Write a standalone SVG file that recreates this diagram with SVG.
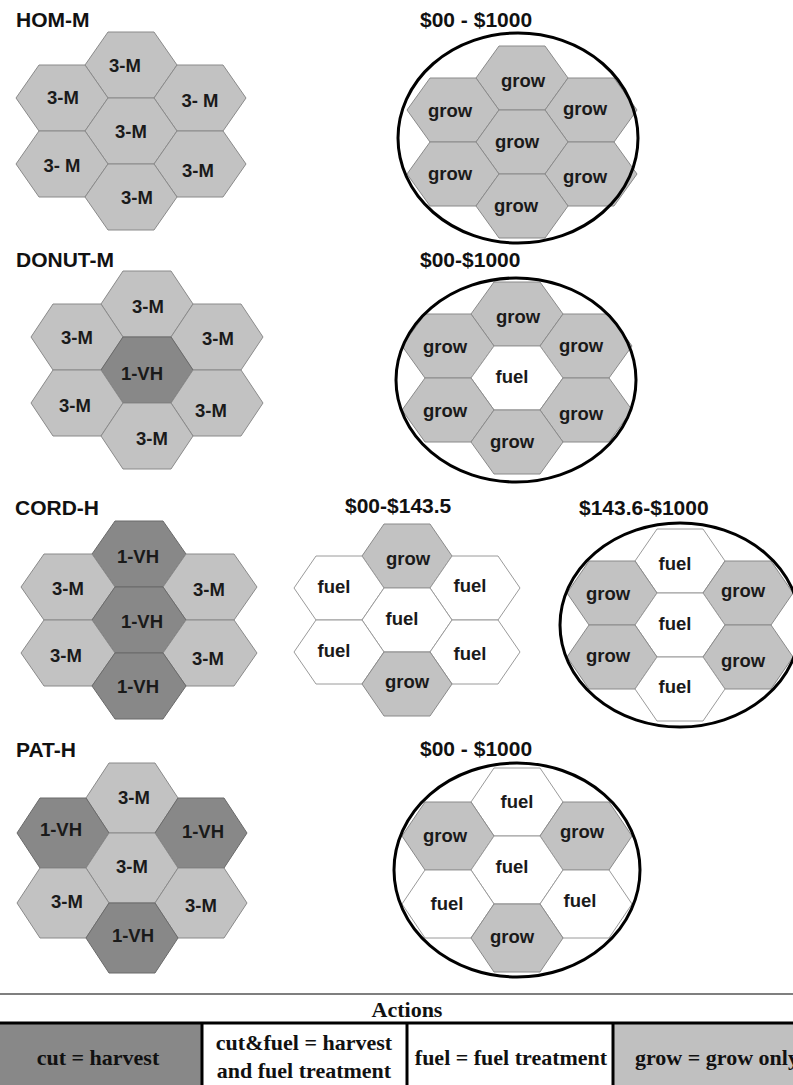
<svg xmlns="http://www.w3.org/2000/svg" xmlns:xlink="http://www.w3.org/1999/xlink" width="793" height="1085" viewBox="0 0 793 1085">
  <style>
    .title { font-family: "Liberation Sans", Arial, sans-serif; font-weight: bold; font-size: 21px; fill: #111; }
    .cell text { font-family: "Liberation Sans", Arial, sans-serif; font-weight: bold; font-size: 18.5px; fill: #1a1a1a; text-anchor: middle; }
    .lt { fill: #c2c2c2; stroke: #8a8a8a; stroke-width: 1; }
    .dk { fill: #888888; stroke: #6a6a6a; stroke-width: 1; }
    .wh { fill: #ffffff; stroke: #9a9a9a; stroke-width: 1; }
    .ring { fill: none; stroke: #000; stroke-width: 3; }
    .leg { font-family: "Liberation Serif", "Times New Roman", serif; font-weight: bold; font-size: 22px; fill: #111; }
    .mid { text-anchor: middle; }
    .rule { stroke: #000; stroke-width: 3; }
  </style>
  <defs>
    <!-- flat-top hexagons centred on 0,0; name = column step _ half height -->
    <path id="h69_32" d="M-23,-32H23L46,0L23,32H-23L-46,0Z"/>
    <path id="h69_33" d="M-23,-33H23L46,0L23,33H-23L-46,0Z"/>
    <path id="h70_33" d="M-24,-33H24L46,0L24,33H-24L-46,0Z"/>
    <path id="h71_33" d="M-24,-33H24L47,0L24,33H-24L-47,0Z"/>
    <path id="h68_32" d="M-23,-32H23L45,0L23,32H-23L-45,0Z"/>
    <path id="h69_35" d="M-23,-35H23L46,0L23,35H-23L-46,0Z"/>
    <path id="h69_34" d="M-23,-34H23L46,0L23,34H-23L-46,0Z"/>
  </defs>
  <rect width="793" height="1085" fill="#fff"/>

  <!-- ===== HOM-M ===== -->
  <text class="title" x="16" y="27">HOM-M</text>
  <g id="hom-m" class="cell">
    <g id="hom-m-top"><use href="#h69_33" x="131" y="65" class="lt"/><text x="125" y="72">3-M</text></g>
    <g id="hom-m-ul"><use href="#h69_33" x="62" y="98" class="lt"/><text x="63" y="104">3-M</text></g>
    <g id="hom-m-ur"><use href="#h69_33" x="200" y="98" class="lt"/><text x="200" y="107">3- M</text></g>
    <g id="hom-m-c"><use href="#h69_33" x="131" y="131" class="lt"/><text x="131" y="138">3-M</text></g>
    <g id="hom-m-ll"><use href="#h69_33" x="62" y="164" class="lt"/><text x="62" y="172">3- M</text></g>
    <g id="hom-m-lr"><use href="#h69_33" x="200" y="164" class="lt"/><text x="198" y="177">3-M</text></g>
    <g id="hom-m-b"><use href="#h69_33" x="131" y="197" class="lt"/><text x="137" y="204">3-M</text></g>
  </g>

  <text class="title" x="420" y="27">$00 - $1000</text>
  <g id="hom-m-plan" class="cell">
    <g id="hom-p-top"><use href="#h69_32" x="522" y="78" class="lt"/><text x="523" y="87">grow</text></g>
    <g id="hom-p-ul"><use href="#h69_32" x="453" y="110" class="lt"/><text x="450" y="117">grow</text></g>
    <g id="hom-p-ur"><use href="#h69_32" x="591" y="110" class="lt"/><text x="585" y="115">grow</text></g>
    <g id="hom-p-c"><use href="#h69_32" x="522" y="142" class="lt"/><text x="517" y="148">grow</text></g>
    <g id="hom-p-ll"><use href="#h69_32" x="453" y="174" class="lt"/><text x="450" y="180">grow</text></g>
    <g id="hom-p-lr"><use href="#h69_32" x="591" y="174" class="lt"/><text x="585" y="183">grow</text></g>
    <g id="hom-p-b"><use href="#h69_32" x="522" y="206" class="lt"/><text x="516" y="212">grow</text></g>
    <ellipse class="ring" cx="518" cy="138" rx="120" ry="105"/>
  </g>

  <!-- ===== DONUT-M ===== -->
  <text class="title" x="16" y="267">DONUT-M</text>
  <g id="donut-m" class="cell">
    <g id="donut-m-top"><use href="#h70_33" x="147" y="304" class="lt"/><text x="148" y="313">3-M</text></g>
    <g id="donut-m-ul"><use href="#h70_33" x="77" y="337" class="lt"/><text x="77" y="344">3-M</text></g>
    <g id="donut-m-ur"><use href="#h70_33" x="217" y="337" class="lt"/><text x="218" y="345">3-M</text></g>
    <g id="donut-m-c"><use href="#h70_33" x="147" y="370" class="dk"/><text x="142" y="380">1-VH</text></g>
    <g id="donut-m-ll"><use href="#h70_33" x="77" y="403" class="lt"/><text x="75" y="412">3-M</text></g>
    <g id="donut-m-lr"><use href="#h70_33" x="217" y="403" class="lt"/><text x="211" y="417">3-M</text></g>
    <g id="donut-m-b"><use href="#h70_33" x="147" y="436" class="lt"/><text x="152" y="445">3-M</text></g>
  </g>

  <text class="title" x="420" y="267">$00-$1000</text>
  <g id="donut-m-plan" class="cell">
    <g id="donut-p-top"><use href="#h69_32" x="517" y="314" class="lt"/><text x="518" y="323">grow</text></g>
    <g id="donut-p-ul"><use href="#h69_32" x="448" y="346" class="lt"/><text x="445" y="353">grow</text></g>
    <g id="donut-p-ur"><use href="#h69_32" x="586" y="346" class="lt"/><text x="581" y="352">grow</text></g>
    <g id="donut-p-c"><use href="#h69_32" x="517" y="378" class="wh"/><text x="512" y="383">fuel</text></g>
    <g id="donut-p-ll"><use href="#h69_32" x="448" y="410" class="lt"/><text x="445" y="417">grow</text></g>
    <g id="donut-p-lr"><use href="#h69_32" x="586" y="410" class="lt"/><text x="581" y="420">grow</text></g>
    <g id="donut-p-b"><use href="#h69_32" x="517" y="442" class="lt"/><text x="512" y="448">grow</text></g>
    <ellipse class="ring" cx="516" cy="380" rx="120" ry="102"/>
  </g>

  <!-- ===== CORD-H ===== -->
  <text class="title" x="15" y="515">CORD-H</text>
  <g id="cord-h" class="cell">
    <g id="cord-h-top"><use href="#h71_33" x="139" y="554" class="dk"/><text x="138" y="563">1-VH</text></g>
    <g id="cord-h-ul"><use href="#h71_33" x="68" y="587" class="lt"/><text x="68" y="595">3-M</text></g>
    <g id="cord-h-ur"><use href="#h71_33" x="210" y="587" class="lt"/><text x="209" y="596">3-M</text></g>
    <g id="cord-h-c"><use href="#h71_33" x="139" y="620" class="dk"/><text x="142" y="628">1-VH</text></g>
    <g id="cord-h-ll"><use href="#h71_33" x="68" y="653" class="lt"/><text x="66" y="662">3-M</text></g>
    <g id="cord-h-lr"><use href="#h71_33" x="210" y="653" class="lt"/><text x="208" y="665">3-M</text></g>
    <g id="cord-h-b"><use href="#h71_33" x="139" y="686" class="dk"/><text x="138" y="693">1-VH</text></g>
  </g>

  <text class="title" x="345" y="513">$00-$143.5</text>
  <g id="cord-h-plan-low" class="cell">
    <g id="cord-a-top"><use href="#h68_32" x="407" y="556" class="lt"/><text x="408" y="565">grow</text></g>
    <g id="cord-a-ul"><use href="#h68_32" x="339" y="588" class="wh"/><text x="334" y="593">fuel</text></g>
    <g id="cord-a-ur"><use href="#h68_32" x="475" y="588" class="wh"/><text x="470" y="592">fuel</text></g>
    <g id="cord-a-c"><use href="#h68_32" x="407" y="620" class="wh"/><text x="402" y="625">fuel</text></g>
    <g id="cord-a-ll"><use href="#h68_32" x="339" y="652" class="wh"/><text x="334" y="657">fuel</text></g>
    <g id="cord-a-lr"><use href="#h68_32" x="475" y="652" class="wh"/><text x="470" y="660">fuel</text></g>
    <g id="cord-a-b"><use href="#h68_32" x="407" y="684" class="lt"/><text x="407" y="688">grow</text></g>
  </g>

  <text class="title" x="579" y="515">$143.6-$1000</text>
  <g id="cord-h-plan-high" class="cell">
    <g id="cord-b-top"><use href="#h68_32" x="680" y="561" class="wh"/><text x="675" y="570">fuel</text></g>
    <g id="cord-b-ul"><use href="#h68_32" x="612" y="593" class="lt"/><text x="608" y="600">grow</text></g>
    <g id="cord-b-ur"><use href="#h68_32" x="748" y="593" class="lt"/><text x="743" y="597">grow</text></g>
    <g id="cord-b-c"><use href="#h68_32" x="680" y="625" class="wh"/><text x="675" y="630">fuel</text></g>
    <g id="cord-b-ll"><use href="#h68_32" x="612" y="657" class="lt"/><text x="608" y="662">grow</text></g>
    <g id="cord-b-lr"><use href="#h68_32" x="748" y="657" class="lt"/><text x="743" y="667">grow</text></g>
    <g id="cord-b-b"><use href="#h68_32" x="680" y="689" class="wh"/><text x="675" y="693">fuel</text></g>
    <ellipse class="ring" cx="680" cy="625" rx="120" ry="102"/>
  </g>

  <!-- ===== PAT-H ===== -->
  <text class="title" x="16" y="757">PAT-H</text>
  <g id="pat-h" class="cell">
    <g id="pat-h-top"><use href="#h69_35" x="132" y="798" class="lt"/><text x="134" y="804">3-M</text></g>
    <g id="pat-h-ul"><use href="#h69_35" x="63" y="833" class="dk"/><text x="61" y="836">1-VH</text></g>
    <g id="pat-h-ur"><use href="#h69_35" x="201" y="833" class="dk"/><text x="203" y="838">1-VH</text></g>
    <g id="pat-h-c"><use href="#h69_35" x="132" y="868" class="lt"/><text x="132" y="873">3-M</text></g>
    <g id="pat-h-ll"><use href="#h69_35" x="63" y="903" class="lt"/><text x="67" y="908">3-M</text></g>
    <g id="pat-h-lr"><use href="#h69_35" x="201" y="903" class="lt"/><text x="201" y="912">3-M</text></g>
    <g id="pat-h-b"><use href="#h69_35" x="132" y="938" class="dk"/><text x="133" y="942">1-VH</text></g>
  </g>

  <text class="title" x="420" y="756">$00 - $1000</text>
  <g id="pat-h-plan" class="cell">
    <g id="pat-p-top"><use href="#h69_34" x="517" y="802" class="wh"/><text x="517" y="808">fuel</text></g>
    <g id="pat-p-ul"><use href="#h69_34" x="448" y="836" class="lt"/><text x="445" y="842">grow</text></g>
    <g id="pat-p-ur"><use href="#h69_34" x="586" y="836" class="lt"/><text x="582" y="838">grow</text></g>
    <g id="pat-p-c"><use href="#h69_34" x="517" y="870" class="wh"/><text x="512" y="873">fuel</text></g>
    <g id="pat-p-ll"><use href="#h69_34" x="448" y="904" class="wh"/><text x="447" y="910">fuel</text></g>
    <g id="pat-p-lr"><use href="#h69_34" x="586" y="904" class="wh"/><text x="580" y="907">fuel</text></g>
    <g id="pat-p-b"><use href="#h69_34" x="517" y="938" class="lt"/><text x="512" y="943">grow</text></g>
    <ellipse class="ring" cx="517" cy="870" rx="123" ry="107"/>
  </g>

  <!-- ===== Actions legend ===== -->
  <g id="legend">
    <line x1="0" y1="994" x2="793" y2="994" stroke="#555" stroke-width="1.5"/>
    <text class="leg mid" x="407" y="1017">Actions</text>
    <rect x="0" y="1023" width="202" height="62" fill="#888888"/>
    <rect x="202" y="1023" width="205" height="62" fill="#ffffff"/>
    <rect x="407" y="1023" width="206" height="62" fill="#ffffff"/>
    <rect x="613" y="1023" width="180" height="62" fill="#c0c0c0"/>
    <line class="rule" x1="0" y1="1023" x2="793" y2="1023"/>
    <line class="rule" x1="202" y1="1023" x2="202" y2="1085"/>
    <line class="rule" x1="407" y1="1023" x2="407" y2="1085"/>
    <line class="rule" x1="613" y1="1023" x2="613" y2="1085"/>
    <text class="leg mid" x="98" y="1065">cut = harvest</text>
    <text class="leg mid" x="304" y="1050">cut&amp;fuel = harvest</text>
    <text class="leg mid" x="304" y="1078">and fuel treatment</text>
    <text class="leg mid" x="511" y="1065">fuel = fuel treatment</text>
    <text class="leg" x="635" y="1065">grow = grow only</text>
  </g>
</svg>
